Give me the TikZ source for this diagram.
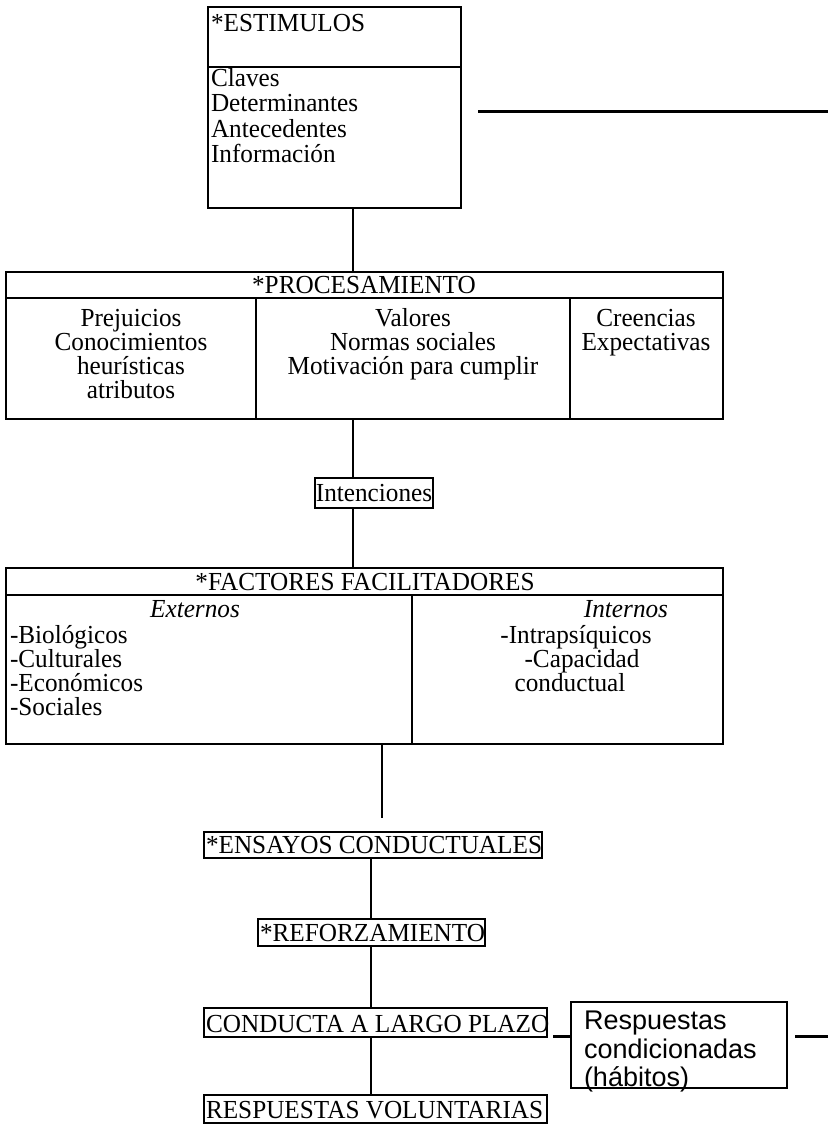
\documentclass[tikz,border=0pt]{standalone}
\usepackage{fontspec}
\setmainfont[FakeStretch=0.97]{Liberation Serif}
\newfontfamily\arialf{Liberation Sans}
\begin{document}
\begin{tikzpicture}[x=1pt,y=-1pt,
  box/.style={draw,line width=1.1pt,inner sep=0pt,outer sep=0pt},
  txt/.style={inner sep=0pt,outer sep=0pt,font=\fontsize{26}{24}\selectfont},
  stxt/.style={inner sep=0pt,outer sep=0pt,font=\arialf\fontsize{27}{29}\selectfont},
  conn/.style={line width=1.1pt},
  thick conn/.style={line width=3pt}]
\useasboundingbox (0,0) rectangle (828,1129);

% ESTIMULOS
\node[box,minimum width=253pt,minimum height=201pt,anchor=north west] (est) at (208,7) {};
\draw[conn] (208,67) -- (461,67);
\node[txt,anchor=base west] (estT) at (211,32) {*ESTIMULOS};
\node[txt,anchor=base west] (e1) at (211,87) {Claves};
\node[txt,anchor=base west] (e2) at (211,112) {Determinantes};
\node[txt,anchor=base west] (e3) at (211,137) {Antecedentes};
\node[txt,anchor=base west] (e4) at (211,162) {Información};
\coordinate (eR) at (478,112);
\coordinate (eRend) at (828,112);
\draw[thick conn] (eR) -- (eRend);

\coordinate (spine) at (353,0);

% PROCESAMIENTO
\node[box,minimum width=717pt,minimum height=147pt,anchor=north west] (proc) at (6,272) {};
\draw[conn] (6,298) -- (723,298);
\draw[conn] (256,298) -- (256,419);
\draw[conn] (570,298) -- (570,419);
\node[txt,anchor=base] (procT) at (364,293) {*PROCESAMIENTO};
\node[txt,anchor=base] (p11) at (131,326) {Prejuicios};
\node[txt,anchor=base] (p12) at (131,350) {Conocimientos};
\node[txt,anchor=base] (p13) at (131,374) {heurísticas};
\node[txt,anchor=base] (p14) at (131,398) {atributos};
\node[txt,anchor=base] (p21) at (413,326) {Valores};
\node[txt,anchor=base] (p22) at (413,350) {Normas sociales};
\node[txt,anchor=base] (p23) at (413,374) {Motivación para cumplir};
\node[txt,anchor=base] (p31) at (646,326) {Creencias};
\node[txt,anchor=base] (p32) at (646,350) {Expectativas};

% Intenciones
\node[box,minimum width=118pt,minimum height=30pt,anchor=north west] (int) at (315,478) {};
\node[txt,anchor=base] (intT) at (374,501) {Intenciones};

% FACTORES
\node[box,minimum width=717pt,minimum height=176pt,anchor=north west] (fac) at (6,568) {};
\draw[conn] (6,595) -- (723,595);
\draw[conn] (412,595) -- (412,744);
\node[txt,anchor=base] (facT) at (365,590) {*FACTORES FACILITADORES};
\node[txt,anchor=base] (ext) at (195,617) {\itshape Externos};
\node[txt,anchor=base] (inn) at (626,617) {\itshape Internos};
\node[txt,anchor=base west] (f1) at (10,643) {-Biológicos};
\node[txt,anchor=base west] (f2) at (10,667) {-Culturales};
\node[txt,anchor=base west] (f3) at (10,691) {-Económicos};
\node[txt,anchor=base west] (f4) at (10,715) {-Sociales};
\node[txt,anchor=base] (g1) at (576,643) {-Intrapsíquicos};
\node[txt,anchor=base] (g2) at (582,667) {-Capacidad};
\node[txt,anchor=base] (g3) at (570,691) {conductual};

% lower chain
\node[box,minimum width=338pt,minimum height=26pt,anchor=north west] (ens) at (204,832) {};
\node[txt,anchor=base west] (ensT) at (206,853) {*ENSAYOS CONDUCTUALES};
\node[box,minimum width=227pt,minimum height=27pt,anchor=north west] (ref) at (258,919) {};
\node[txt,anchor=base west] (refT) at (260,941) {*REFORZAMIENTO};
\node[box,minimum width=343pt,minimum height=29pt,anchor=north west] (con) at (204,1008) {};
\node[txt,anchor=base west] (conT) at (206,1032) {CONDUCTA A LARGO PLAZO};
\node[box,minimum width=343pt,minimum height=28pt,anchor=north west] (vol) at (204,1095) {};
\node[txt,anchor=base west] (volT) at (206,1118) {RESPUESTAS VOLUNTARIAS};

\node[box,minimum width=216pt,minimum height=86pt,anchor=north west] (hab) at (571,1002) {};
\node[stxt,anchor=base west] (h1) at (584,1029) {Respuestas};
\node[stxt,anchor=base west] (h2) at (584,1058) {condicionadas};
\node[stxt,anchor=base west] (h3) at (584,1086) {(hábitos)};

% connectors
\draw[conn] (spine |- est.south) -- (spine |- proc.north);
\draw[conn] (spine |- proc.south) -- (spine |- int.north);
\draw[conn] (spine |- int.south) -- (spine |- fac.north);
\coordinate (spine2) at (382,0);
\coordinate (facEnd) at (382,818);
\draw[conn] (spine2 |- fac.south) -- (facEnd);
\coordinate (spine3) at (371,0);
\draw[conn] (spine3 |- ens.south) -- (spine3 |- ref.north);
\draw[conn] (spine3 |- ref.south) -- (spine3 |- con.north);
\draw[conn] (spine3 |- con.south) -- (spine3 |- vol.north);
\coordinate (hl) at (553,1036);
\draw[thick conn] (hl) -- (hab.west |- hl);
\coordinate (hr) at (795,1036);
\coordinate (hrEnd) at (828,1036);
\draw[thick conn] (hr) -- (hrEnd);
\end{tikzpicture}
\end{document}
